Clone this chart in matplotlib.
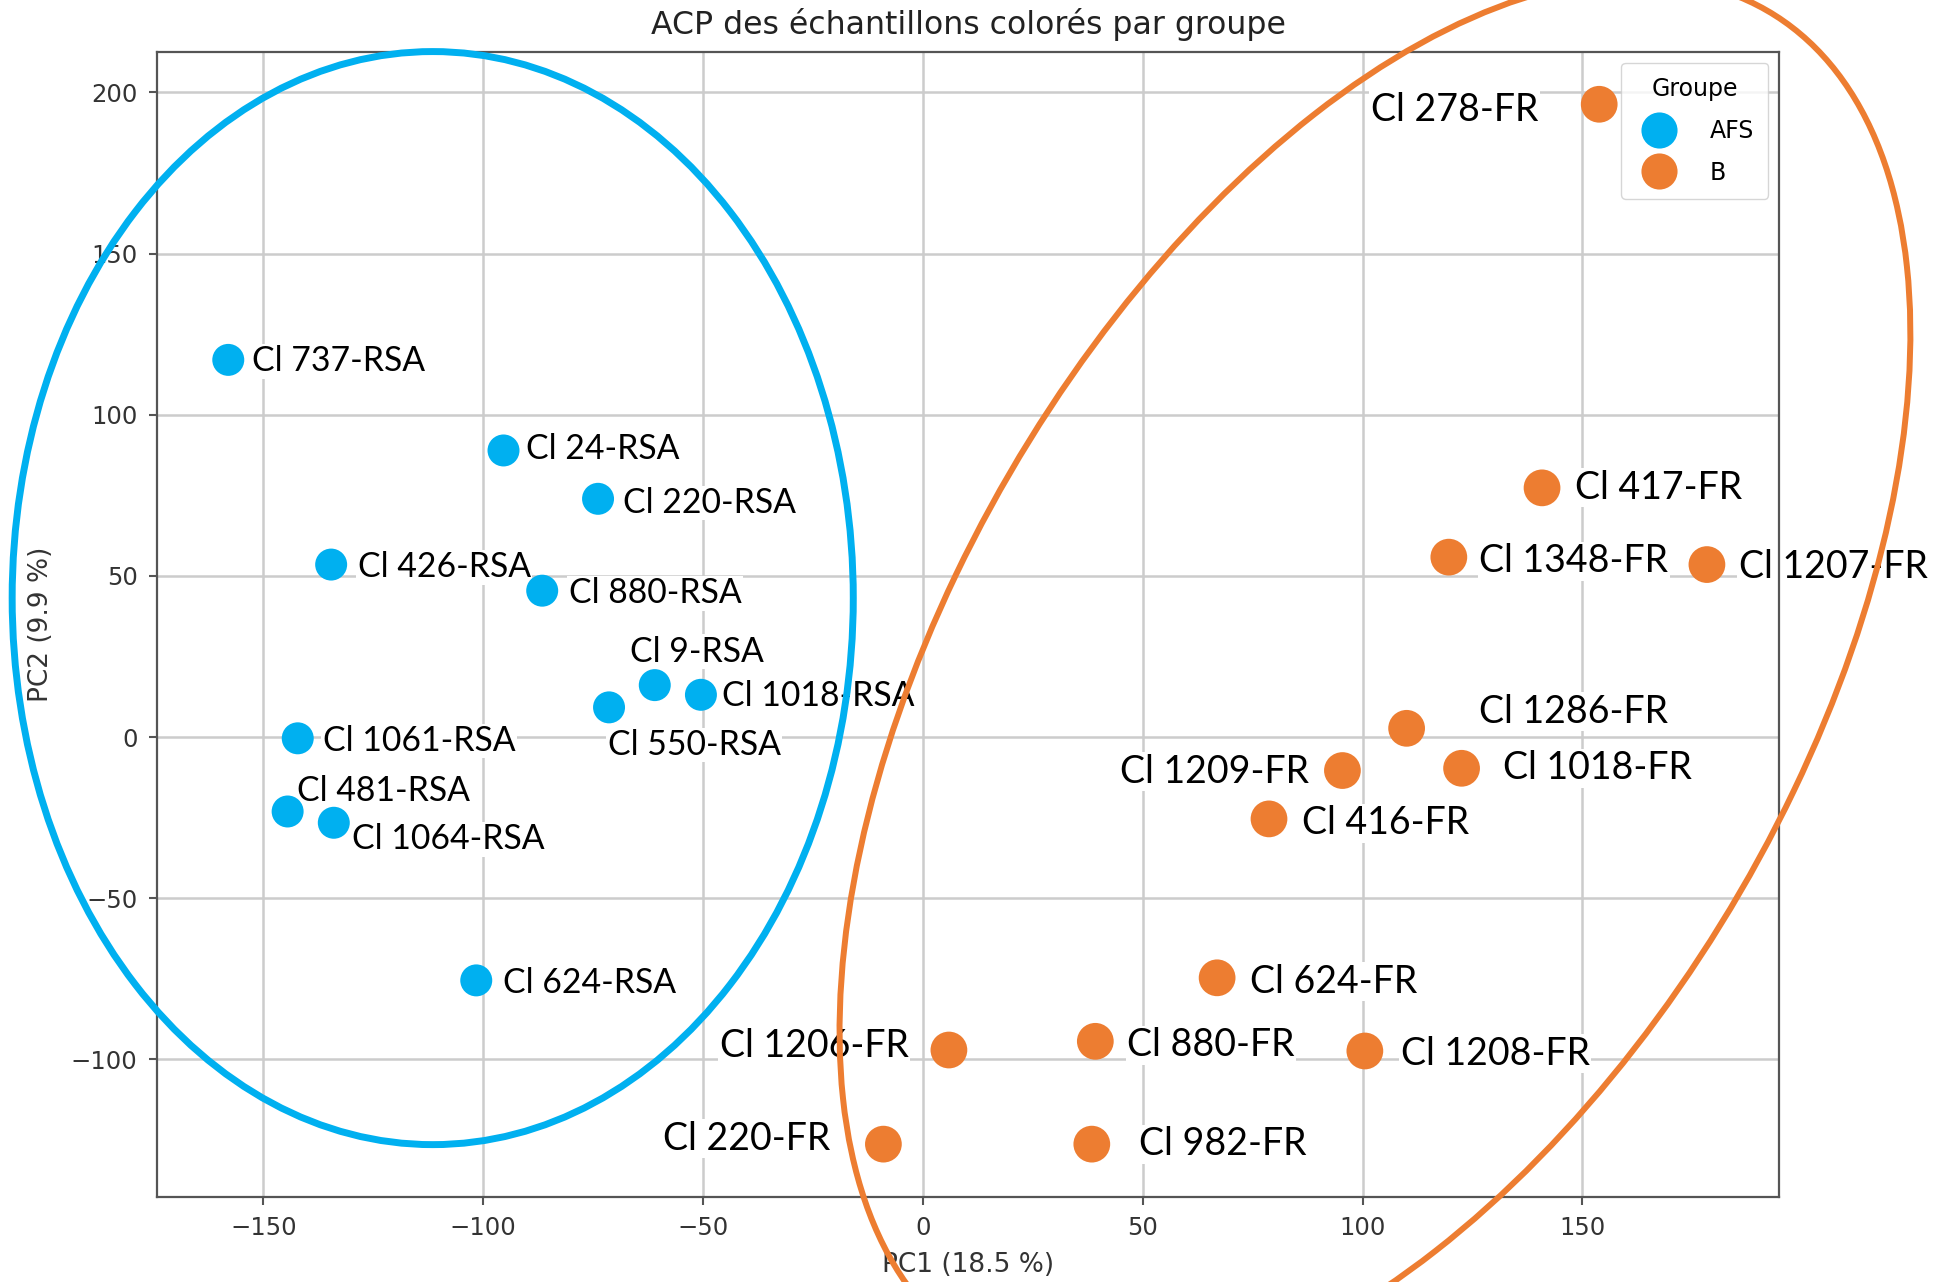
import matplotlib
matplotlib.use('Agg')
import matplotlib.pyplot as plt
from matplotlib.patches import Ellipse
from matplotlib.lines import Line2D

# groupe AFS (souches RSA)
afs_names = ['Cl 737-RSA', 'Cl 24-RSA', 'Cl 220-RSA', 'Cl 426-RSA', 'Cl 880-RSA',
             'Cl 9-RSA', 'Cl 1018-RSA', 'Cl 550-RSA', 'Cl 1061-RSA', 'Cl 481-RSA',
             'Cl 1064-RSA', 'Cl 624-RSA']
afs_pc1 = [-158.0, -95.4, -73.9, -134.6, -86.6, -61.0, -50.5, -71.4, -142.2, -144.5, -134.0, -101.6]
afs_pc2 = [117.0, 88.9, 73.9, 53.5, 45.4, 16.1, 13.1, 9.2, -0.4, -23.1, -26.6, -75.5]

# groupe B (souches FR)
b_names = ['Cl 278-FR', 'Cl 417-FR', 'Cl 1348-FR', 'Cl 1207-FR', 'Cl 1286-FR',
           'Cl 1209-FR', 'Cl 1018-FR', 'Cl 416-FR', 'Cl 624-FR', 'Cl 1206-FR',
           'Cl 880-FR', 'Cl 1208-FR', 'Cl 220-FR', 'Cl 982-FR']
b_pc1 = [153.8, 140.8, 119.6, 178.3, 110.0, 95.4, 122.5, 78.7, 66.9, 5.9, 39.2, 100.5, -9.0, 38.4]
b_pc2 = [196.3, 77.3, 55.8, 53.5, 2.7, -10.4, -9.7, -25.4, -74.7, -97.1, -94.4, -97.4, -126.3, -126.3]

# position des étiquettes (décalage en points)
afs_offsets = [(17, -1), (16, 1), (18, -3), (19, -2), (19, -2), (-18, 24),
               (15, -1), (-1, -27), (18, -2), (7, 15), (13, -12), (19, -2)]
b_offsets = [(-44, -4), (24, 0), (22, -3), (23, -2), (52, 12), (-24, -1),
             (30, 0), (24, -3), (24, -3), (-29, 3), (23, -3), (26, -2), (-38, 4), (34, 0)]
b_right = ['Cl 278-FR', 'Cl 1209-FR', 'Cl 1206-FR', 'Cl 220-FR']

blue = '#00B0F0'
orange = '#ED7D31'

fig = plt.figure(figsize=(19.46, 12.82), dpi=100)
ax = fig.add_axes([0.0807, 0.0663, 0.8335, 0.8931])

ax.grid(True, color='#cccccc', linewidth=1.8, zorder=0)
ax.set_axisbelow(True)

ax.scatter(afs_pc1, afs_pc2, s=530, color=blue, edgecolors='none', zorder=3)
ax.scatter(b_pc1, b_pc2, s=700, color=orange, edgecolors='none', zorder=3)

for name, x, y, off in zip(afs_names, afs_pc1, afs_pc2, afs_offsets):
    ax.annotate(name, (x, y), xytext=off, textcoords='offset points',
                ha='left', va='center', fontsize=24.3, family='Lato', color='black',
                bbox=dict(facecolor='white', edgecolor='none', pad=1), zorder=2.5)

for name, x, y, off in zip(b_names, b_pc1, b_pc2, b_offsets):
    ha = 'right' if name in b_right else 'left'
    ax.annotate(name, (x, y), xytext=off, textcoords='offset points',
                ha=ha, va='center', fontsize=27, family='Lato', color='black',
                bbox=dict(facecolor='white', edgecolor='none', pad=1), zorder=2.5)

# ellipses entourant les groupes
ax.add_patch(Ellipse((-111.5, 43.1), 191.3, 339.1, fill=False, edgecolor=blue,
                     linewidth=5, clip_on=False, zorder=5))
ax.add_patch(Ellipse((102.8, 16.9), 457.6, 202, angle=70.65, fill=False, edgecolor=orange,
                     linewidth=4.3, clip_on=False, zorder=5))

ax.set_xlim(-174.2, 194.7)
ax.set_ylim(-142.7, 212.5)
ax.set_xticks([-150, -100, -50, 0, 50, 100, 150])
ax.set_yticks([-100, -50, 0, 50, 100, 150, 200])

for sp in ax.spines.values():
    sp.set_color('#555555')
    sp.set_linewidth(1.6)
ax.tick_params(labelsize=17.5, labelcolor='#333333', color='#555555', length=6, width=1.5, pad=8)

ax.set_title('ACP des échantillons colorés par groupe', fontsize=22.7, color='#222222', pad=13)
ax.set_xlabel('PC1 (18.5 %)', fontsize=19, color='#333333', labelpad=8)
ax.set_ylabel('PC2 (9.9 %)', fontsize=19, color='#333333', labelpad=12)

handles = [Line2D([], [], marker='o', linestyle='none', markersize=26,
                  markerfacecolor=c, markeredgecolor='none', label=l)
           for c, l in [(blue, 'AFS'), (orange, 'B')]]
ax.legend(handles=handles, title='Groupe', loc='upper right', fontsize=17,
          title_fontsize=17, labelspacing=0.76, handlelength=2.0, handletextpad=1.15,
          borderpad=0.6, borderaxespad=0.45)

fig.savefig('out.png', dpi=100)
